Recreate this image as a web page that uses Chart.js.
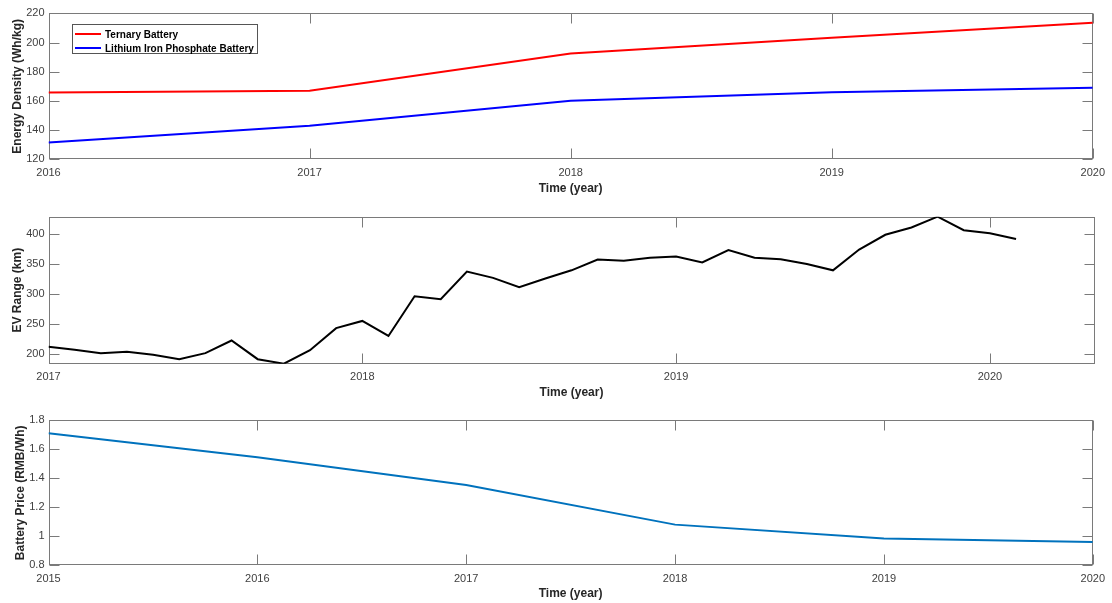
<!DOCTYPE html>
<html>
<head>
<meta charset="utf-8">
<script src="https://cdn.jsdelivr.net/npm/chart.js@4.4.1/dist/chart.umd.min.js"></script>
<style>
body{margin:0;background:#fff;width:1112px;height:603px;overflow:hidden;position:relative;font-family:"Liberation Sans",Arial,sans-serif;}
canvas{position:absolute;left:0;}
#legend{position:absolute;left:72px;top:24px;width:186px;height:30px;border:1px solid #555;background:#fff;box-sizing:border-box;}
#legend .row{position:absolute;left:2px;height:14px;display:flex;align-items:center;font:bold 10px "Liberation Sans",Arial,sans-serif;color:#000;white-space:nowrap;}
#legend .ln{display:inline-block;width:26px;height:2px;margin-right:4px;}
</style>
</head>
<body>
<canvas id="density" width="1112" height="196" style="top:0px"></canvas>
<canvas id="range" width="1112" height="200" style="top:200px"></canvas>
<canvas id="price" width="1112" height="196" style="top:405px"></canvas>
<div id="legend"></div>
<script>
// energy density (Wh/kg)
const densityYears = [2016, 2017, 2018, 2019, 2020];
const ternaryDensity = [165.8, 167, 192.5, 203.3, 213.5];
const lfpDensity = [131.6, 143, 160.2, 166, 169.1];

// EV range (km), one value per month starting Jan 2017
const rangeStartYear = 2017;
const rangeAxisEnd = 2020 + 4 / 12;
const rangeValues = [212, 207, 201.5, 204, 199, 191.5, 201.5, 222.5, 191.5, 184,
                     206.5, 243, 255, 230, 296, 291, 337, 326.5, 311, 325.5,
                     339, 357, 355, 360, 362, 352, 372.5, 360, 357.5, 349.5,
                     339, 373.5, 398, 410, 428, 405.5, 400.5, 391];

// battery price (RMB/Wh)
const priceYears = [2015, 2016, 2017, 2018, 2019, 2020];
const batteryPrice = [1.71, 1.545, 1.354, 1.081, 0.985, 0.962];

const FONT = '"Liberation Sans", Arial, sans-serif';
const tickFont = { family: FONT, size: 11 };
const titleFont = { family: FONT, size: 12, weight: 'bold' };

// MATLAB style box with inward ticks on all four sides
const matlabBox = {
    id: 'matlabBox',
    beforeDatasetsDraw(chart) {
        const { ctx, chartArea: a, scales: { x, y } } = chart;
        const L = Math.round(a.left) + 0.5, R = Math.round(a.right) - 0.5;
        const T = Math.round(a.top) + 0.5, B = Math.round(a.bottom) - 0.5;
        ctx.save();
        ctx.strokeStyle = '#7a7a7a'; ctx.lineWidth = 1;
        ctx.beginPath();
        x.ticks.forEach(t => {
            const px = Math.round(x.getPixelForValue(t.value)) + 0.5;
            ctx.moveTo(px, B); ctx.lineTo(px, B - 10);
            ctx.moveTo(px, T); ctx.lineTo(px, T + 10);
        });
        y.ticks.forEach(t => {
            const py = Math.round(y.getPixelForValue(t.value)) + 0.5;
            ctx.moveTo(L, py); ctx.lineTo(L + 10, py);
            ctx.moveTo(R, py); ctx.lineTo(R - 10, py);
        });
        ctx.stroke();
        ctx.strokeRect(L, T, R - L, B - T);
        ctx.restore();
    }
};

function xs(xVals, yVals) { return yVals.map((v, i) => ({ x: xVals[i], y: v })); }

// ticks on every multiple of step inside [min, max]
function stepTicks(min, max, step) {
    const out = [];
    for (let k = Math.ceil(min / step - 1e-9); k * step <= max + 1e-9; k++) out.push({ value: +(k * step).toFixed(6) });
    return out;
}

function makePanel(id, datasets, opt) {
    return new Chart(document.getElementById(id), {
        type: 'line',
        data: { datasets },
        plugins: [matlabBox],
        options: {
            responsive: false, animation: false,
            layout: { padding: { top: opt.top, right: 17.5, left: 0, bottom: 0 } },
            plugins: { legend: { display: false }, tooltip: { enabled: false } },
            elements: { point: { radius: 0 }, line: { borderWidth: 2, tension: 0 } },
            scales: {
                x: {
                    type: 'linear', min: opt.xMin, max: opt.xMax,
                    afterFit: s => { s.height = opt.xH; },
                    afterBuildTicks: s => { s.ticks = stepTicks(opt.xMin, opt.xMax, 1); },
                    grid: { display: false, drawTicks: false }, border: { display: false },
                    ticks: { autoSkip: false, maxRotation: 0, padding: 7, color: '#404040', font: tickFont,
                             callback: v => String(v) },
                    title: { display: true, text: 'Time (year)', color: '#262626', font: titleFont, padding: 0 }
                },
                y: {
                    min: opt.yMin, max: opt.yMax,
                    afterFit: s => { s.width = 48.5; },
                    afterBuildTicks: s => { s.ticks = stepTicks(opt.yMin, opt.yMax, opt.yStep); },
                    grid: { display: false, drawTicks: false }, border: { display: false },
                    ticks: { autoSkip: false, padding: 4, color: '#404040', font: tickFont,
                             callback: v => String(Number(v.toFixed(1))) },
                    title: { display: true, text: opt.yTitle, color: '#262626', font: titleFont, padding: { top: opt.yTitlePad, bottom: 0 } }
                }
            }
        }
    });
}

const densityChart = makePanel('density', [
    { label: 'Ternary Battery', data: xs(densityYears, ternaryDensity), borderColor: '#ff0000' },
    { label: 'Lithium Iron Phosphate Battery', data: xs(densityYears, lfpDensity), borderColor: '#0000ff' }
], { top: 13.3, xH: 36.6, xMin: 2016, xMax: 2020, yMin: 120, yMax: 220, yStep: 20, yTitle: 'Energy Density (Wh/kg)', yTitlePad: 10 });

const rangeX = rangeValues.map((v, i) => rangeStartYear + i / 12);
makePanel('range', [
    { label: 'EV Range', data: xs(rangeX, rangeValues), borderColor: '#000000' }
], { top: 16.7, xH: 36.3, xMin: rangeStartYear, xMax: rangeAxisEnd,
     yMin: Math.min(...rangeValues), yMax: Math.max(...rangeValues), yStep: 50, yTitle: 'EV Range (km)', yTitlePad: 10 });

makePanel('price', [
    { label: 'Battery Price', data: xs(priceYears, batteryPrice), borderColor: '#0072bd' }
], { top: 15.3, xH: 35.6, xMin: 2015, xMax: 2020, yMin: 0.8, yMax: 1.8, yStep: 0.2, yTitle: 'Battery Price (RMB/Wh)', yTitlePad: 13 });

// legend box for the top panel
const legend = document.getElementById('legend');
densityChart.data.datasets.forEach((ds, i) => {
    const row = document.createElement('div'); row.className = 'row';
    row.style.top = (2 + i * 14) + 'px';
    row.innerHTML = `<span class="ln" style="background:${ds.borderColor}"></span>${ds.label}`;
    legend.appendChild(row);
});
</script>
</body>
</html>
